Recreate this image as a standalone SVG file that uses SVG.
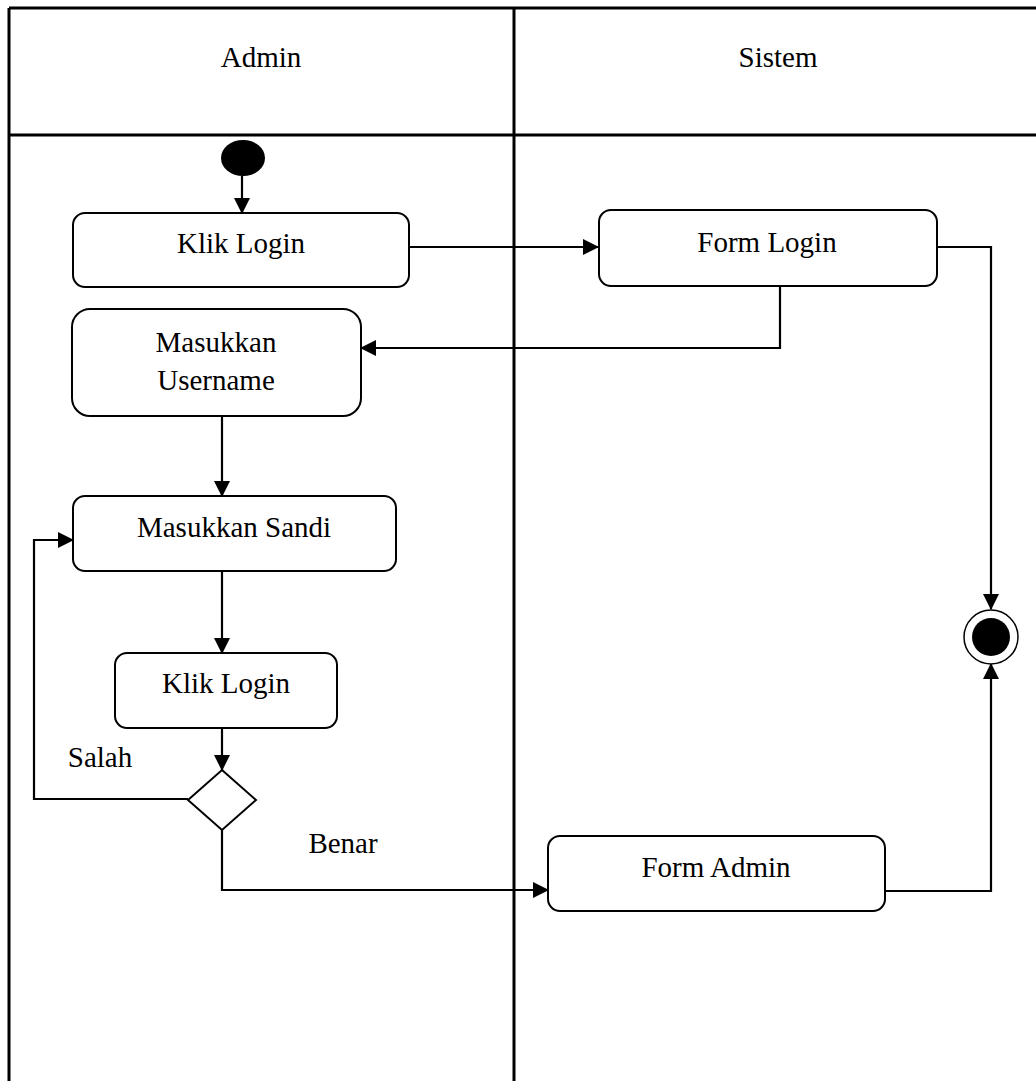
<svg xmlns="http://www.w3.org/2000/svg" width="1036" height="1081" viewBox="0 0 1036 1081">
<style>
  .frame{stroke:#000;stroke-width:3;fill:none}
  .node{fill:#fff;stroke:#000;stroke-width:2}
  .lbl{font-family:"Liberation Serif","Times New Roman",serif;font-size:29px;fill:#000;text-anchor:middle}
  .conn{fill:none;stroke:#000;stroke-width:2.2}
</style>
<defs>
  <marker id="arr" markerUnits="userSpaceOnUse" markerWidth="16" markerHeight="16" refX="15" refY="8" orient="auto">
    <path d="M0,0 L16,8 L0,16 z" fill="#000"/>
  </marker>
</defs>
<rect width="1036" height="1081" fill="#fff"/>
<g id="swimlanes">
  <line class="frame" x1="9" y1="8" x2="1036" y2="8"/>
  <line class="frame" x1="9" y1="135" x2="1036" y2="135"/>
  <line class="frame" x1="9" y1="8" x2="9" y2="1081"/>
  <line class="frame" x1="514" y1="8" x2="514" y2="1081"/>
  <text class="lbl" x="261" y="67">Admin</text>
  <text class="lbl" x="778" y="67">Sistem</text>
</g>
<g id="connectors">
  <line class="conn" x1="242" y1="176" x2="242" y2="213" marker-end="url(#arr)"/>
  <line class="conn" x1="409" y1="247" x2="598" y2="247" marker-end="url(#arr)"/>
  <path class="conn" d="M780,286 V348 H361" marker-end="url(#arr)"/>
  <path class="conn" d="M937,247 H991 V609" marker-end="url(#arr)"/>
  <line class="conn" x1="222" y1="416" x2="222" y2="496" marker-end="url(#arr)"/>
  <line class="conn" x1="222" y1="571" x2="222" y2="653" marker-end="url(#arr)"/>
  <line class="conn" x1="222" y1="728" x2="222" y2="770" marker-end="url(#arr)"/>
  <path class="conn" d="M188,799 H34 V540 H73" marker-end="url(#arr)"/>
  <path class="conn" d="M222,830 V890 H548" marker-end="url(#arr)"/>
  <path class="conn" d="M885,891 H991 V664" marker-end="url(#arr)"/>
  <text class="lbl" x="100" y="767">Salah</text>
  <text class="lbl" x="343" y="853">Benar</text>
</g>
<g id="start">
  <ellipse cx="243" cy="158" rx="22" ry="18" fill="#000"/>
</g>
<g id="klik-login-1">
  <rect class="node" x="73" y="213" width="336" height="74" rx="12"/>
  <text class="lbl" x="241" y="253">Klik Login</text>
</g>
<g id="form-login">
  <rect class="node" x="599" y="210" width="338" height="76" rx="12"/>
  <text class="lbl" x="767" y="252">Form Login</text>
</g>
<g id="masukkan-username">
  <rect class="node" x="72" y="309" width="289" height="107" rx="18"/>
  <text class="lbl" x="216" y="352">Masukkan</text>
  <text class="lbl" x="216" y="390">Username</text>
</g>
<g id="masukkan-sandi">
  <rect class="node" x="73" y="496" width="323" height="75" rx="12"/>
  <text class="lbl" x="234" y="537">Masukkan Sandi</text>
</g>
<g id="klik-login-2">
  <rect class="node" x="115" y="653" width="222" height="75" rx="12"/>
  <text class="lbl" x="226" y="693">Klik Login</text>
</g>
<g id="decision">
  <polygon class="node" points="222,770 256,800 222,830 188,800"/>
</g>
<g id="form-admin">
  <rect class="node" x="548" y="836" width="337" height="75" rx="12"/>
  <text class="lbl" x="716" y="877">Form Admin</text>
</g>
<g id="end">
  <circle cx="991" cy="637" r="27" fill="#fff" stroke="#000" stroke-width="1.5"/>
  <circle cx="991" cy="637" r="19" fill="#000"/>
</g>
</svg>
